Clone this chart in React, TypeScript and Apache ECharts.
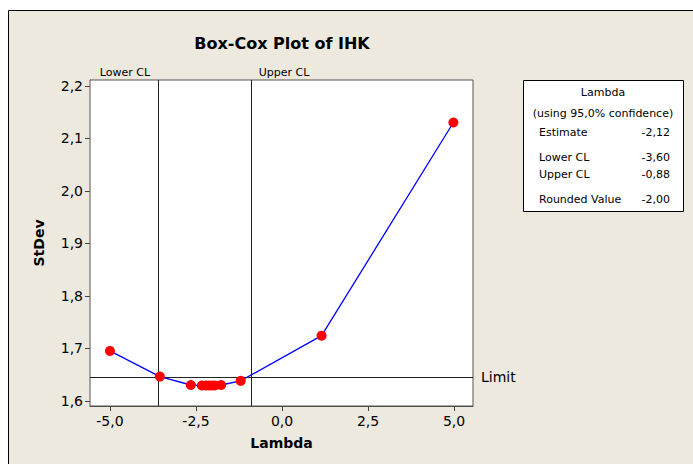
import React, { useEffect, useRef } from "react";
import * as echarts from "echarts";

const lambdaValues = [-5.0, -3.55, -2.65, -2.33, -2.21, -2.12, -2.03, -1.95, -1.77, -1.2, 1.15, 4.98];
const stdevValues = [1.695, 1.646, 1.63, 1.629, 1.629, 1.629, 1.629, 1.629, 1.63, 1.638, 1.724, 2.13];
const xTicks = [-5, -2.5, 0, 2.5, 5];
const yTicks = [1.6, 1.7, 1.8, 1.9, 2.0, 2.1, 2.2];
const estimate = -2.12;
const lowerCL = -3.6;
const upperCL = -0.88;
const roundedValue = -2.0;
const limitValue = 1.645;
const confidence = 95.0;

const FONT = "DejaVu Sans";
const BG = "#EDE9DF";
const fmt = (v: number, d: number) => v.toFixed(d).replace(".", ",");

export default function App() {
  const ref = useRef<HTMLDivElement>(null);
  useEffect(() => {
    if (!ref.current) return;
    const chart = echarts.init(ref.current, undefined, { renderer: "svg" });
    const option: any = {
      animation: false,
      backgroundColor: "#ffffff",
      textStyle: { fontFamily: FONT },
      grid: {
        left: 90,
        top: 80,
        width: 383,
        height: 326,
        show: true,
        backgroundColor: "#ffffff",
        borderColor: "#555",
        borderWidth: 1,
        z: 1,
      },
      xAxis: {
        type: "value",
        min: -5.58,
        max: 5.55,
        name: "Lambda",
        nameLocation: "middle",
        nameGap: 30,
        nameTextStyle: { fontFamily: FONT, fontWeight: "bold", fontSize: 14, color: "#000" },
        axisLine: { show: true, onZero: false, lineStyle: { color: "#444" } },
        axisTick: { show: true, customValues: xTicks, length: 5, lineStyle: { color: "#444" } },
        axisLabel: {
          customValues: xTicks,
          formatter: (v: number) => fmt(v, 1),
          fontSize: 14,
          color: "#000",
          margin: 8,
        },
        splitLine: { show: false },
      },
      yAxis: {
        type: "value",
        min: 1.59,
        max: 2.211,
        name: "StDev",
        nameLocation: "middle",
        nameGap: 44,
        nameTextStyle: { fontFamily: FONT, fontWeight: "bold", fontSize: 14, color: "#000" },
        axisLine: { show: true, onZero: false, lineStyle: { color: "#444" } },
        axisTick: { show: true, customValues: yTicks, length: 5, lineStyle: { color: "#444" } },
        axisLabel: {
          customValues: yTicks,
          formatter: (v: number) => fmt(v, 1),
          fontSize: 14,
          color: "#000",
          margin: 7,
        },
        splitLine: { show: false },
      },
      series: [
        {
          type: "line",
          data: lambdaValues.map((x, i) => [x, stdevValues[i]]),
          lineStyle: { color: "#0000FF", width: 1.3 },
          itemStyle: { color: "#FF0000" },
          symbol: "circle",
          symbolSize: 10,
          z: 5,
          markLine: {
            silent: true,
            symbol: "none",
            animation: false,
            precision: 4,
            lineStyle: { color: "#222", width: 1, type: "solid" },
            data: [
              { xAxis: lowerCL, label: { show: false } },
              { xAxis: upperCL, label: { show: false } },
              {
                yAxis: limitValue,
                label: {
                  show: true,
                  position: "end",
                  formatter: "Limit",
                  fontSize: 14,
                  color: "#000",
                  fontFamily: FONT,
                  distance: 8,
                },
              },
            ],
          },
        },
      ],
    };
    chart.setOption(option);

    const lowerPx = chart.convertToPixel({ xAxisIndex: 0 }, lowerCL) as number;
    const upperPx = chart.convertToPixel({ xAxisIndex: 0 }, upperCL) as number;

    const lx = 523;
    const ly = 80;
    const lw = 160;
    const lh = 131;
    const small = { fontFamily: FONT, fontSize: 11, fill: "#000" };
    const rows: [string, string, number][] = [
      ["Estimate", fmt(estimate, 2), 52],
      ["Lower CL", fmt(lowerCL, 2), 77],
      ["Upper CL", fmt(upperCL, 2), 94],
      ["Rounded Value", fmt(roundedValue, 2), 119],
    ];

    chart.setOption({
      graphic: [
        {
          type: "rect",
          z: -10,
          silent: true,
          shape: { x: 8.5, y: 10.5, width: 720, height: 480 },
          style: { fill: BG, stroke: "#000", lineWidth: 1 },
        },
        {
          type: "text",
          style: {
            text: "Box-Cox Plot of IHK",
            x: 282,
            y: 43,
            align: "center",
            verticalAlign: "middle",
            fontFamily: FONT,
            fontWeight: "bold",
            fontSize: 16,
            fill: "#000",
          },
        },
        {
          type: "text",
          style: {
            ...small,
            text: "Lower CL",
            x: lowerPx - 8,
            y: 72,
            align: "right",
            verticalAlign: "middle",
          },
        },
        {
          type: "text",
          style: {
            ...small,
            text: "Upper CL",
            x: upperPx + 7,
            y: 72,
            align: "left",
            verticalAlign: "middle",
          },
        },
        {
          type: "group",
          x: lx,
          y: ly,
          children: [
            {
              type: "rect",
              shape: { x: 0.5, y: 0.5, width: lw, height: lh },
              style: { fill: "#fff", stroke: "#000", lineWidth: 1 },
            },
            {
              type: "text",
              style: { ...small, text: "Lambda", x: lw / 2, y: 12, align: "center", verticalAlign: "middle" },
            },
            {
              type: "text",
              style: {
                ...small,
                text: `(using ${fmt(confidence, 1)}% confidence)`,
                x: lw / 2,
                y: 33,
                align: "center",
                verticalAlign: "middle",
              },
            },
            ...rows.flatMap(([label, val, yy]) => [
              {
                type: "text",
                style: { ...small, text: label, x: 16, y: yy, align: "left", verticalAlign: "middle" },
              },
              {
                type: "text",
                style: { ...small, text: val, x: 147, y: yy, align: "right", verticalAlign: "middle" },
              },
            ]),
          ],
        },
      ],
    });

    return () => chart.dispose();
  }, []);
  return (
    <div
      ref={ref}
      style={{ position: "absolute", left: 0, top: 0, width: 693, height: 464 }}
    />
  );
}
